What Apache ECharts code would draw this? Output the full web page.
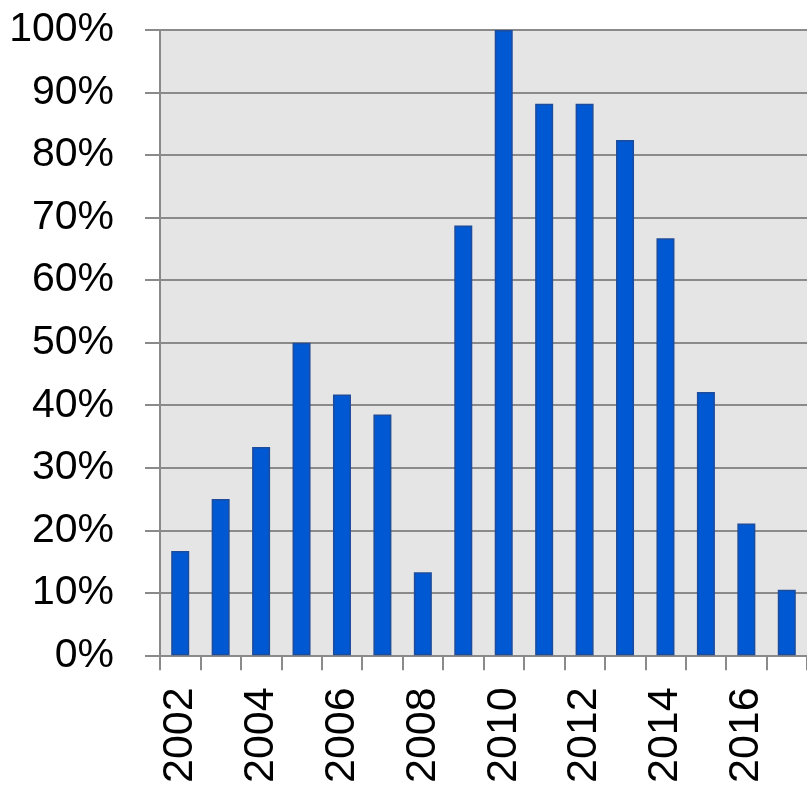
<!DOCTYPE html>
<html>
<head>
<meta charset="utf-8">
<script src="https://cdn.jsdelivr.net/npm/echarts@6/dist/echarts.min.js"></script>
<style>
  html, body { margin: 0; padding: 0; background: #ffffff; }
  #chart { width: 807px; height: 786px; }
</style>
</head>
<body>
<div id="chart"></div>
<script>
// Yearly share values (fraction of the peak year)
const years = ['2002','2003','2004','2005','2006','2007','2008','2009',
               '2010','2011','2012','2013','2014','2015','2016','2017'];
const shares = [0.167, 0.25, 0.333, 0.50, 0.417, 0.385, 0.133, 0.6875,
                1.00, 0.882, 0.882, 0.824, 0.667, 0.421, 0.211, 0.105];

const gridColor = '#8a8a8a';

const chart = echarts.init(document.getElementById('chart'), null, { renderer: 'canvas' });
chart.setOption({
  animation: false,
  backgroundColor: '#ffffff',
  grid: {
    left: 160, top: 30, width: 648, height: 628,
    show: true, backgroundColor: '#e5e5e5', borderWidth: 0
  },
  xAxis: {
    type: 'category',
    data: years,
    boundaryGap: true,
    axisLine: { show: true, lineStyle: { color: gridColor, width: 2 } },
    axisTick: { show: true, interval: 0, length: 15, lineStyle: { color: gridColor, width: 2 } },
    axisLabel: {
      interval: 1, rotate: 90, margin: 32,
      fontFamily: 'Liberation Sans', fontSize: 43, color: '#000000'
    },
    splitLine: { show: false }
  },
  yAxis: {
    type: 'value',
    min: 0, max: 1, interval: 0.1,
    axisLine: { show: true, lineStyle: { color: gridColor, width: 2 } },
    axisTick: { show: true, length: 15, lineStyle: { color: gridColor, width: 2 } },
    axisLabel: {
      margin: 46,
      fontFamily: 'Liberation Sans', fontSize: 41, color: '#000000',
      formatter: v => Math.round(v * 100) + '%'
    },
    splitLine: { show: true, lineStyle: { color: gridColor, width: 2 } }
  },
  series: [{
    type: 'bar',
    data: shares,
    barWidth: 18,
    itemStyle: { color: '#0058d2', borderColor: '#1d4c9c', borderWidth: 1.5 }
  }]
});
</script>
</body>
</html>
